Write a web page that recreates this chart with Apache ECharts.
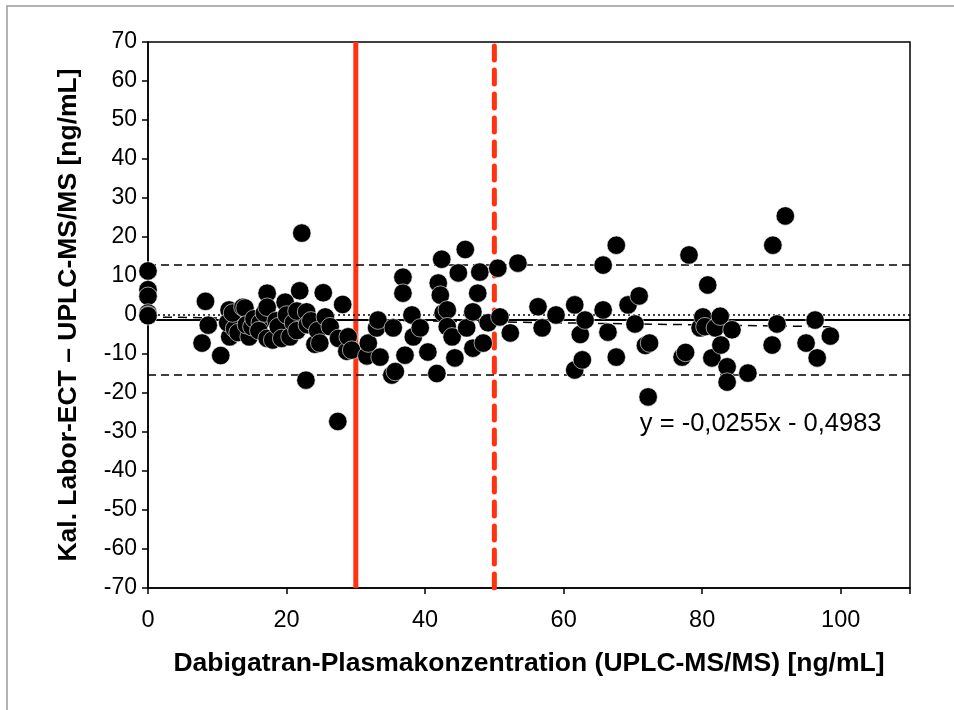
<!DOCTYPE html>
<html>
<head>
<meta charset="utf-8">
<script src="https://cdn.jsdelivr.net/npm/echarts@6/dist/echarts.min.js"></script>
<style>html,body{margin:0;padding:0;background:#fff;}#c{width:954px;height:710px;}</style>
</head>
<body>
<div id="c"></div>
<script>
// ---- data ----
const xVals = [0,0,0,0,0,0,
  7.8,8.3,8.7,10.5,11.7,11.8,11.5,12.5,12.2,13,13.7,14,14.6,14.2,15,15.3,16.2,16,16.8,17.2,17.2,17.2,18,18.5,18.8,19.3,19.8,20,20.5,21,21.5,21.5,21.9,22.2,22.9,22.8,23,23.5,24.1,24.5,24.8,25.3,25.6,26.3,27.4,27.5,28.1,28.7,28.9,29.4,
  31.6,31.8,33,33.2,33.5,35.2,35.7,35.4,36.8,36.8,37.1,38.1,38.3,39.3,40.4,41.7,41.9,42.2,42.4,42.6,43.2,43.2,43.9,44.3,44.8,45.8,46,46.9,46.9,47.6,47.9,48.4,49.1,50.5,50.8,52.3,53.4,
  56.3,56.9,58.9,61.6,61.6,62.4,62.7,63.1,65.7,65.7,66.4,67.6,67.6,69.3,70.3,70.9,71.8,72.4,72.2,
  77.1,77.6,78.1,79.7,80.1,80.8,80.4,81.4,81.9,82.6,82.7,83.6,83.6,84.3,86.6,90.1,90.2,90.8,92,95,96.3,96.6,98.5];
const yVals = [11.3,6.5,4.8,0.5,0,-0.2,
  -7.2,3.5,-2.6,-10.4,1.3,-5.6,-2,-3.5,0.5,-4.5,2,1.8,-5.6,-2.5,-3,-1,-2,-4,0.5,5.6,2,-6,-6.4,-1.5,-3,-6,3.3,0,-5.6,-2,1,-4,6.2,21,0.8,-16.7,-2.5,-1.5,-7.5,-4,-7.2,5.7,-0.5,-3,-27.3,-6,2.7,-9.3,-5.6,-9,
  -10.5,-7.2,-3.3,-1.3,-10.8,-15.4,-14.5,-3.3,9.7,5.6,-10.3,0,-5.6,-3.3,-9.5,-15,8.2,5.1,14.3,0.5,1.3,-3,-5.6,-11,10.8,16.8,-3.3,0.8,-8.5,5.6,11,-7.2,-2,12,-0.5,-4.6,13.3,
  2.1,-3.3,0,2.6,-14.1,-5,-11.5,-1.3,12.8,1.3,-4.4,17.9,-10.8,2.6,-2.3,4.9,-7.8,-7.2,-21,
  -10.8,-9.6,15.4,-3.3,-0.5,7.7,-3,-11,-3.3,-0.3,-7.7,-13.3,-17.2,-3.8,-14.9,-7.7,17.9,-2.3,25.4,-7.2,-1.3,-11,-5.4];
const xTicks = [0,20,40,60,80,100];
const yTicks = [-70,-60,-50,-40,-30,-20,-10,0,10,20,30,40,50,60,70];
const meanDiff = -1.3;
const upperLoA = 12.8;
const lowerLoA = -15.4;
const zeroLine = 0;
const regSlope = -0.0255;
const regIntercept = -0.4983;
const regRange = [0, 98.5];
const cutoffSolid = 30;
const cutoffDashed = 50;
const eqText = 'y = -0,0255x - 0,4983';

const points = xVals.map((x,i)=>[x,yVals[i]]);
const regLine = regRange.map(x=>[x, regSlope*x+regIntercept]);

const FONT = '"Liberation Sans", Arial, sans-serif';
const chart = echarts.init(document.getElementById('c'), null, {renderer:'canvas'});
chart.setOption({
  animation:false,
  backgroundColor:'#fff',
  grid:{left:148, top:42, right:44, bottom:122, show:true, borderColor:'#000', borderWidth:1.5, backgroundColor:'transparent'},
  xAxis:{type:'value', min:0, max:110, interval:20,
    name:'Dabigatran-Plasmakonzentration (UPLC-MS/MS) [ng/mL]', nameLocation:'middle', nameGap:62,
    nameTextStyle:{fontFamily:FONT, fontSize:26.5, fontWeight:'bold', color:'#000'},
    axisLine:{show:true, onZero:false, lineStyle:{color:'#000', width:1.5}},
    axisTick:{show:true, inside:false, length:6, lineStyle:{color:'#000', width:1.5}},
    axisLabel:{fontFamily:FONT, fontSize:23.5, color:'#000', margin:21,
      formatter:v=>xTicks.indexOf(v)>=0?String(v):''},
    splitLine:{show:false}},
  yAxis:{type:'value', min:-70, max:70, interval:10,
    name:'Kal. Labor-ECT – UPLC-MS/MS [ng/mL]', nameLocation:'middle', nameGap:66, nameRotate:90,
    nameTextStyle:{fontFamily:FONT, fontSize:26.5, fontWeight:'bold', color:'#000'},
    axisLine:{show:true, onZero:false, lineStyle:{color:'#000', width:1.5}},
    axisTick:{show:true, inside:false, length:6, lineStyle:{color:'#000', width:1.5}},
    axisLabel:{fontFamily:FONT, fontSize:23, color:'#000', margin:11,
      formatter:v=>yTicks.indexOf(v)>=0?String(v):''},
    splitLine:{show:false}},
  series:[
    {type:'line', data:[[cutoffSolid,-70],[cutoffSolid,70]], symbol:'none', lineStyle:{color:'#ff3311', width:5}, z:1},
    {type:'line', data:[[cutoffDashed,-70],[cutoffDashed,70]], symbol:'none', lineStyle:{color:'#ff3311', width:5, type:[14,10], cap:'round'}, z:1},
    {type:'line', data:[[0,upperLoA],[110,upperLoA]], symbol:'none', lineStyle:{color:'#000', width:1.5, type:[8,5]}, z:2},
    {type:'line', data:[[0,lowerLoA],[110,lowerLoA]], symbol:'none', lineStyle:{color:'#000', width:1.5, type:[8,5]}, z:2},
    {type:'line', data:[[0,meanDiff],[110,meanDiff]], symbol:'none', lineStyle:{color:'#000', width:2}, z:2},
    {type:'line', data:[[0,zeroLine],[110,zeroLine]], symbol:'none', lineStyle:{color:'#000', width:1.5, type:[2,3]}, z:2},
    {type:'line', data:regLine, symbol:'none', lineStyle:{color:'#000', width:1.5, type:[9,6]}, z:2},
    {type:'scatter', data:points, symbol:'circle', symbolSize:18.5, itemStyle:{color:'#000', borderColor:'#fff', borderWidth:0.6, opacity:1}, z:5}
  ]
});
const eqPos = chart.convertToPixel({gridIndex:0},[71,-28]);
chart.setOption({graphic:[
  {type:'rect', shape:{x:7, y:6, width:1000, height:800}, style:{fill:'none', stroke:'#9a9a9a', lineWidth:1.5}, silent:true, z:-10},
  {type:'text', x:eqPos[0], y:eqPos[1],
   style:{text:eqText, font:'25.5px '+FONT, fill:'#000', textAlign:'left', textVerticalAlign:'middle'}}
]});
</script>
</body>
</html>
